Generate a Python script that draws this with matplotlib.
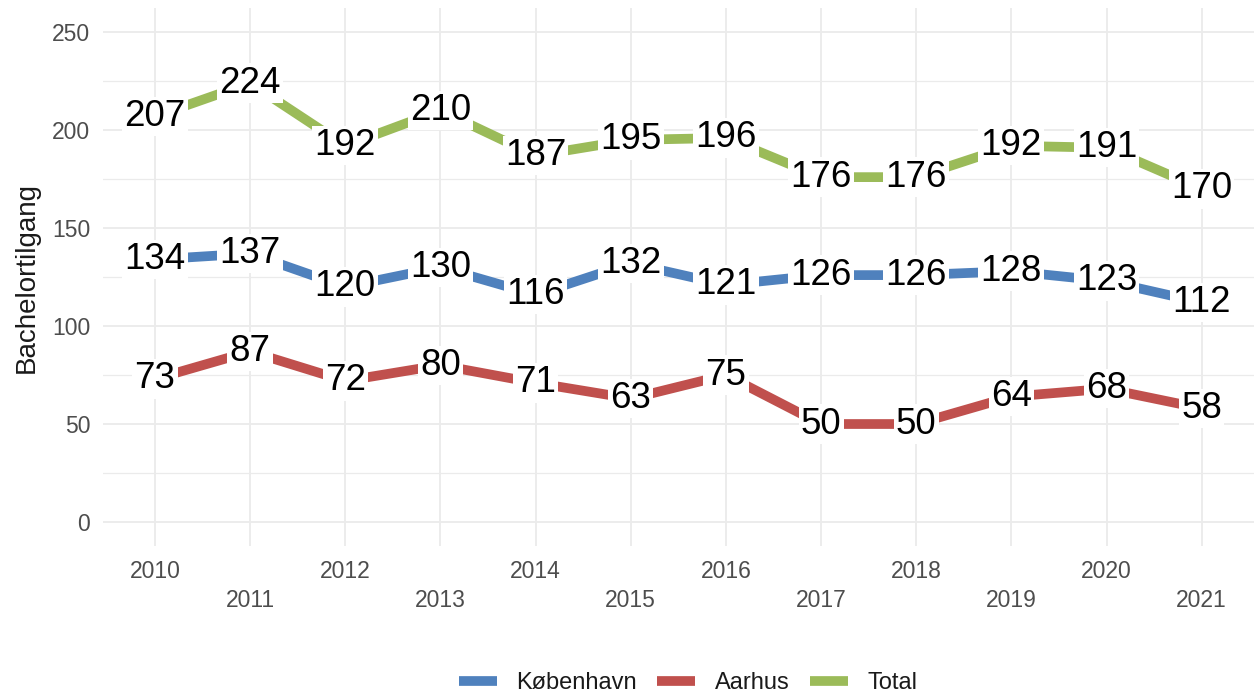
import matplotlib
matplotlib.use("Agg")
import matplotlib.pyplot as plt
from matplotlib.lines import Line2D
from matplotlib.ticker import MultipleLocator

plt.rcParams['font.family'] = ['Liberation Sans', 'DejaVu Sans']

years = [2010, 2011, 2012, 2013, 2014, 2015, 2016, 2017, 2018, 2019, 2020, 2021]
kobenhavn = [134, 137, 120, 130, 116, 132, 121, 126, 126, 128, 123, 112]
aarhus = [73, 87, 72, 80, 71, 63, 75, 50, 50, 64, 68, 58]
total = [207, 224, 192, 210, 187, 195, 196, 176, 176, 192, 191, 170]
series_names = ["København", "Aarhus", "Total"]
series_values = [kobenhavn, aarhus, total]
colors = ["#4f81bd", "#c0504d", "#9bbb59"]
y_ticks = [0, 50, 100, 150, 200, 250]

fig = plt.figure(figsize=(12.56, 6.95), dpi=100)
ax = fig.add_axes([0.0817, 0.2137, 0.9167, 0.7753])

for name, vals, c in zip(series_names, series_values, colors):
    ax.plot(years, vals, color=c, linewidth=7, solid_capstyle='butt', zorder=3)
    for x, v in zip(years, vals):
        ax.text(x, v, str(v), ha='center', va='center', fontsize=26.5, color='black',
                zorder=4, bbox=dict(facecolor='white', edgecolor='none', pad=1.5))

ax.set_xlim(2009.45, 2021.55)
ax.set_ylim(-12.5, 262.5)
ax.set_yticks(y_ticks)
ax.yaxis.set_minor_locator(MultipleLocator(25))
ax.set_xticks(years)
ax.set_xticklabels([str(y) for y in years])
ax.grid(which='major', color='#ebebeb', linewidth=1.3, zorder=0)
ax.grid(which='minor', axis='y', color='#ebebeb', linewidth=0.9, zorder=0)
ax.set_axisbelow(True)
for s in ax.spines.values():
    s.set_visible(False)
ax.tick_params(which='both', length=0)
ax.tick_params(axis='y', labelsize=16.5, labelcolor='#4d4d4d', pad=9)
ax.tick_params(axis='x', labelsize=16.5, labelcolor='#4d4d4d')
for i, t in enumerate(ax.xaxis.get_major_ticks()):
    t.set_pad(10 if i % 2 == 0 else 30.5)

ax.set_ylabel("Bachelortilgang", fontsize=20, color='#1a1a1a', labelpad=9)

handles = [Line2D([], [], color=c, linewidth=7, solid_capstyle='butt') for c in colors]
fig.legend(handles, series_names, loc='lower center', bbox_to_anchor=(0.548, -0.029),
           ncol=3, frameon=False, fontsize=17, handlelength=1.6, handletextpad=0.85,
           columnspacing=0.85, labelcolor='#1a1a1a')

fig.savefig("out.png", dpi=100, facecolor='white')
